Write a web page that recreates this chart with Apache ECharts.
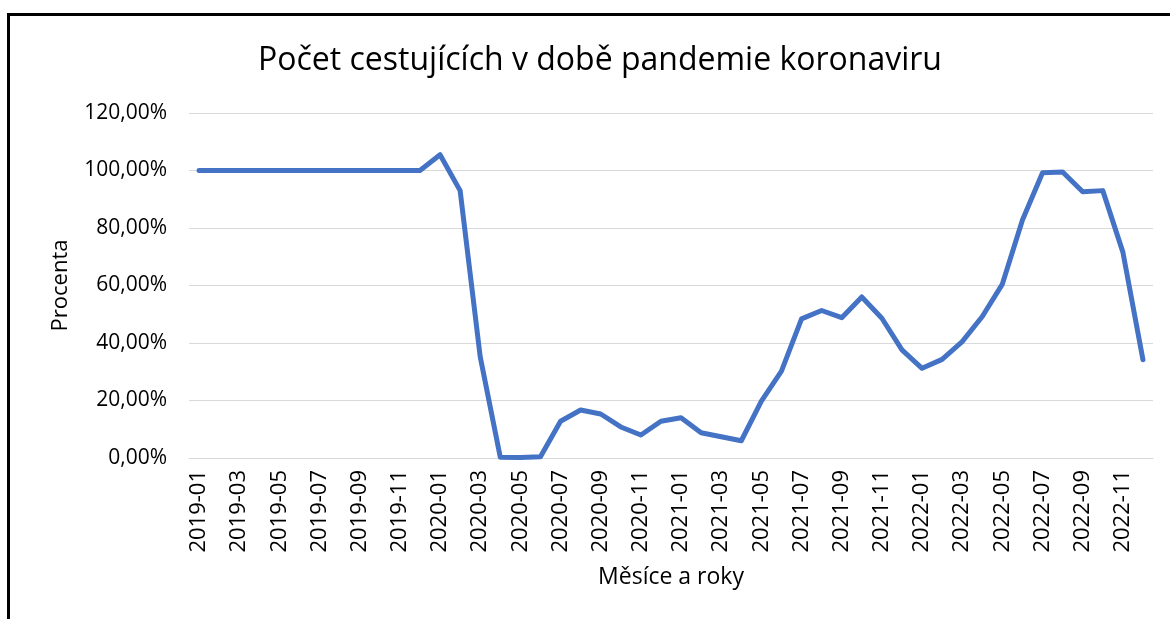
<!DOCTYPE html>
<html>
<head>
<meta charset="utf-8">
<script src="https://cdn.jsdelivr.net/npm/echarts@6/dist/echarts.min.js"></script>
<style>
  html, body { margin: 0; padding: 0; background: #fff; }
  #frame {
    position: absolute; left: 7px; top: 13px; width: 1170px; height: 620px;
    border-left: 3px solid #000; border-top: 3px solid #000; box-sizing: border-box;
  }
  #lineChart { position: absolute; left: 0; top: 0; width: 1170px; height: 619px; }
</style>
</head>
<body>
<div id="frame"></div>
<div id="lineChart"></div>
<script>
// měsíce 2019-01 .. 2022-12
const months = [
  '2019-01', '2019-02', '2019-03', '2019-04', '2019-05', '2019-06',
  '2019-07', '2019-08', '2019-09', '2019-10', '2019-11', '2019-12',
  '2020-01', '2020-02', '2020-03', '2020-04', '2020-05', '2020-06',
  '2020-07', '2020-08', '2020-09', '2020-10', '2020-11', '2020-12',
  '2021-01', '2021-02', '2021-03', '2021-04', '2021-05', '2021-06',
  '2021-07', '2021-08', '2021-09', '2021-10', '2021-11', '2021-12',
  '2022-01', '2022-02', '2022-03', '2022-04', '2022-05', '2022-06',
  '2022-07', '2022-08', '2022-09', '2022-10', '2022-11', '2022-12'
]
// podíl cestujících vůči roku 2019 (1 = 100 %)
const passengers = [
  1, 1, 1, 1, 1, 1, 1, 1, 1, 1, 1, 1,
  1.055, 0.93, 0.352, 0.003, 0.002, 0.004, 0.128, 0.167, 0.153, 0.108, 0.08, 0.128,
  0.14, 0.088, 0.074, 0.06, 0.198, 0.302, 0.484, 0.513, 0.488, 0.56, 0.486, 0.376,
  0.312, 0.343, 0.405, 0.492, 0.605, 0.828, 0.992, 0.995, 0.926, 0.93, 0.716, 0.342
]
const yTicks = { min: 0, max: 1.2, step: 0.2 }

const font = '"Open Sans", sans-serif'
const myChart = echarts.init(document.getElementById('lineChart'), null, { renderer: 'canvas' })
const options = {
  animation: false,
  title: {
    text: 'Počet cestujících v době pandemie koronaviru',
    left: 595,
    textAlign: 'center',
    top: 40,
    textStyle: { fontFamily: font, fontSize: 32, fontWeight: 'normal', color: '#000' }
  },
  grid: { left: 189, right: 17, top: 113, bottom: 161 },
  xAxis: {
    type: 'category',
    data: months,
    boundaryGap: true,
    name: 'Měsíce a roky',
    nameLocation: 'middle',
    nameGap: 108,
    nameTextStyle: { fontFamily: font, fontSize: 23, color: '#000' },
    axisLine: { lineStyle: { color: '#d9d9d9', width: 1 } },
    axisTick: { show: false },
    axisLabel: {
      interval: 1,
      rotate: 90,
      margin: 12,
      fontFamily: font,
      fontSize: 22,
      color: '#000'
    }
  },
  yAxis: {
    type: 'value',
    min: yTicks.min,
    max: yTicks.max,
    interval: yTicks.step,
    name: 'Procenta',
    nameLocation: 'middle',
    nameRotate: 90,
    nameGap: 117,
    nameTextStyle: { fontFamily: font, fontSize: 22, color: '#000' },
    axisLine: { show: false },
    axisTick: { show: false },
    axisLabel: {
      margin: 22,
      fontFamily: font,
      fontSize: 21,
      color: '#000',
      formatter: v => (v * 100).toFixed(2).replace('.', ',') + '%'
    },
    splitLine: { lineStyle: { color: '#d9d9d9', width: 1 } }
  },
  series: [{
    type: 'line',
    data: passengers,
    symbol: 'none',
    lineStyle: { color: '#4472c4', width: 5, cap: 'round', join: 'round' }
  }]
}
myChart.setOption(options)
</script>
</body>
</html>
